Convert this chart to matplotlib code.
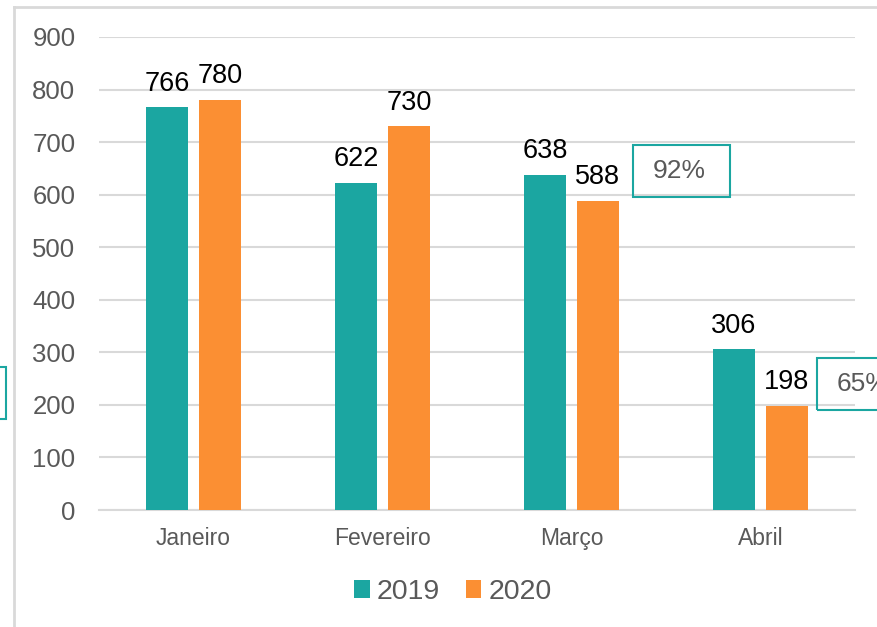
import matplotlib
matplotlib.use("Agg")
import matplotlib.pyplot as plt
import numpy as np
from matplotlib.patches import Rectangle
from matplotlib.lines import Line2D

plt.rcParams['font.family'] = ['Liberation Sans', 'DejaVu Sans']

# data
meses = ["Janeiro", "Fevereiro", "Março", "Abril"]
anos = ["2019", "2020"]
v2019 = [766, 622, 638, 306]
v2020 = [780, 730, 588, 198]
caixas = ["", "92%", "65%"]

teal = "#1BA6A1"
laranja = "#FB8F33"
cinza = "#595959"
grade = "#D9D9D9"

W, H = 878, 627
fig = plt.figure(figsize=(W / 100, H / 100), dpi=100)
ax = fig.add_axes([99 / W, 1 - 510 / H, (855 - 99) / W, (510 - 37) / H])

x = np.arange(len(meses))
bw = 0.222
off = 0.14
b1 = ax.bar(x - off, v2019, width=bw, color=teal, label=anos[0], zorder=3)
b2 = ax.bar(x + off, v2020, width=bw, color=laranja, label=anos[1], zorder=3)

for bars in (b1, b2):
    for r in bars:
        ax.annotate(str(int(r.get_height())), (r.get_x() + r.get_width() / 2, r.get_height()),
                    xytext=(0, 12), textcoords="offset points", ha="center", va="baseline",
                    fontsize=19.5, color="black")

ax.set_xlim(-0.5, 3.5)
ax.set_ylim(0, 900)
ax.set_yticks(range(0, 901, 100))
ax.set_xticks(x)
ax.set_xticklabels(meses, fontsize=16.5, color=cinza)
ax.tick_params(axis="y", labelsize=18.5, labelcolor=cinza, length=0, pad=17)
ax.tick_params(axis="x", length=0, pad=12)
ax.grid(axis="y", color=grade, linewidth=1.5, zorder=0)
for s in ["top", "right", "left"]:
    ax.spines[s].set_visible(False)
ax.spines["bottom"].set_color(grade)
ax.spines["bottom"].set_linewidth(1.5)

fig.legend(handles=[b1, b2], labels=anos, loc="center", bbox_to_anchor=(453 / W, 1 - 592 / H),
           ncol=2, frameon=False, fontsize=20.5, labelcolor=cinza, handlelength=0.55,
           handleheight=0.55, handletextpad=0.25, columnspacing=0.9)

# outer frame
fig.add_artist(Line2D([14 / W, 14 / W], [0, 1 - 7 / H], color=grade, lw=2))
fig.add_artist(Line2D([14 / W, 1], [1 - 7 / H, 1 - 7 / H], color=grade, lw=2))

# percentage boxes (px: x0, y0 top, x1, y1 bottom)
boxes = [(-90, 367, 6, 419), (633, 145, 730, 197), (817, 358, 918, 410)]
for (x0, y0, x1, y1), t in zip(boxes, caixas):
    fig.add_artist(Rectangle((x0 / W, 1 - y1 / H), (x1 - x0) / W, (y1 - y0) / H,
                             transform=fig.transFigure, fill=False, edgecolor=teal, lw=1.5))
    if t:
        fig.text((x0 + 20) / W, 1 - (y0 + y1) / 2 / H, t, ha="left", va="center",
                 fontsize=19, color=cinza)

fig.savefig("out.png", dpi=100)
